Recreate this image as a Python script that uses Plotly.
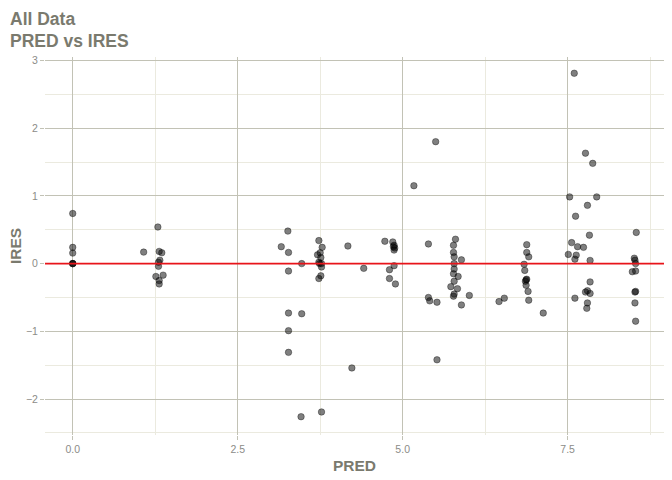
import plotly.graph_objects as go

# PRED / IRES pairs, one pair of lists per column of points
pred_0 = [0.0, 0.0, 0.0, 0.0, 0.0, 0.0]
ires_0 = [0.74, 0.24, 0.155, 0.0, 0.0, 0.0]

pred_1 = [1.29, 1.075, 1.31, 1.35, 1.32, 1.30, 1.30, 1.26, 1.37, 1.31, 1.31]
ires_1 = [0.54, 0.17, 0.18, 0.16, 0.05, 0.02, -0.04, -0.19, -0.17, -0.25, -0.30]

pred_2 = [3.16, 3.27, 3.26, 3.27, 3.47, 3.27, 3.47, 3.27, 3.27, 3.46]
ires_2 = [0.25, 0.165, 0.48, -0.11, 0.0, -0.73, -0.74, -0.99, -1.31, -2.26]

pred_3 = [3.73, 3.78, 3.71, 3.75, 3.76, 3.73, 3.74, 3.77, 3.77, 3.76, 3.73, 3.77]
ires_3 = [0.34, 0.24, 0.13, 0.16, 0.09, 0.02, 0.0, 0.0, -0.05, -0.18, -0.22, -2.19]

pred_4 = [4.17, 4.41, 4.23, 4.73, 4.85, 4.87, 4.86, 4.87, 4.88, 4.87, 4.80, 4.80, 4.89]
ires_4 = [0.26, -0.07, -1.54, 0.33, 0.32, 0.27, 0.25, 0.20, 0.23, -0.03, -0.09, -0.22, -0.30]

pred_5 = [5.17, 5.50, 5.39, 5.39, 5.41, 5.52, 5.52,
          5.80, 5.77, 5.77, 5.78, 5.89, 5.78, 5.78, 5.77, 5.84, 5.78, 5.73,
          5.83, 5.78, 5.77, 6.01, 5.89, 6.46, 6.54]
ires_5 = [1.15, 1.80, 0.29, -0.50, -0.55, -0.57, -1.42,
          0.36, 0.27, 0.165, 0.10, 0.056, 0.0, -0.08, -0.15, -0.19, -0.26, -0.34,
          -0.37, -0.45, -0.48, -0.47, -0.61, -0.56, -0.51]

pred_6 = [6.88, 6.88, 6.91, 6.84, 6.85, 6.87, 6.88, 6.86, 6.87, 6.90, 6.91, 7.13]
ires_6 = [0.28, 0.165, 0.10, -0.01, -0.10, -0.24, -0.23, -0.26, -0.32, -0.41, -0.54, -0.73]

pred_7 = [7.60, 7.77, 7.88, 7.53, 7.94, 7.80, 7.62, 7.83, 7.56, 7.65, 7.74,
          7.51, 7.63, 7.61, 7.84, 7.84, 7.77, 7.80, 7.84, 7.61, 7.80, 7.79]
ires_7 = [2.81, 1.63, 1.48, 0.985, 0.985, 0.86, 0.70, 0.42, 0.31, 0.25, 0.24,
          0.136, 0.125, 0.066, 0.047, -0.27, -0.42, -0.40, -0.44, -0.51, -0.58, -0.66]

pred_8 = [8.54, 8.51, 8.52, 8.53, 8.48, 8.53, 8.52, 8.53, 8.52, 8.53]
ires_8 = [0.46, 0.08, 0.05, 0.0, -0.12, -0.11, -0.42, -0.41, -0.58, -0.85]

pred = pred_0 + pred_1 + pred_2 + pred_3 + pred_4 + pred_5 + pred_6 + pred_7 + pred_8
ires = ires_0 + ires_1 + ires_2 + ires_3 + ires_4 + ires_5 + ires_6 + ires_7 + ires_8

x_ticks = [0, 2.5, 5, 7.5]
x_labels = ["0.0", "2.5", "5.0", "7.5"]
y_ticks = [-2, -1, 0, 1, 2, 3]

x_range = [-0.42, 8.96]
y_range = [-2.53, 3.05]

major = "#c2c2b5"
minor = "#ebeadf"
text_col = "#7a7a6e"
tick_col = "#8c8c88"

fig = go.Figure()
fig.add_trace(go.Scatter(
    x=pred, y=ires, mode="markers",
    marker=dict(size=6.5, color="rgba(0,0,0,0.5)",
                line=dict(color="rgba(0,0,0,0.45)", width=0.8)),
    showlegend=False, hoverinfo="x+y",
))
fig.add_trace(go.Scatter(
    x=x_range, y=[0, 0], mode="lines",
    line=dict(color="#e8141a", width=1.7),
    showlegend=False, hoverinfo="skip",
))

# page body has an 8px margin, so the figure is drawn 8px smaller
fig.update_layout(
    width=664, height=472,
    margin=dict(l=37, r=8, t=49, b=45, autoexpand=False),
    paper_bgcolor="white", plot_bgcolor="white",
    font=dict(family="Liberation Sans, Arial, sans-serif", color=text_col),
)
fig.add_annotation(text="<b>All Data</b>", xref="paper", yref="paper",
                   x=0, y=1, xanchor="left", yanchor="middle",
                   xshift=-36, yshift=38, showarrow=False, borderpad=0,
                   font=dict(size=17.5, color=text_col))
fig.add_annotation(text="<b>PRED vs IRES</b>", xref="paper", yref="paper",
                   x=0, y=1, xanchor="left", yanchor="middle",
                   xshift=-36, yshift=16, showarrow=False, borderpad=0,
                   font=dict(size=17.5, color=text_col))
fig.add_annotation(text="<b>PRED</b>", xref="paper", yref="paper",
                   x=0.5, y=0, xanchor="center", yanchor="middle",
                   yshift=-30, showarrow=False,
                   font=dict(size=15.5, color=text_col))
fig.add_annotation(text="<b>IRES</b>", xref="paper", yref="paper",
                   x=0, y=0.5, xanchor="center", yanchor="middle",
                   xshift=-30, textangle=-90, showarrow=False,
                   font=dict(size=15.5, color=text_col))

fig.update_xaxes(
    range=x_range, tickmode="array", tickvals=x_ticks, ticktext=x_labels,
    showgrid=True, gridcolor=major, gridwidth=1.4, zeroline=False,
    ticks="outside", ticklen=4, tickcolor=major,
    tickfont=dict(size=10.5, color=tick_col),
    minor=dict(tickmode="array", tickvals=[1.25, 3.75, 6.25, 8.75],
               showgrid=True, gridcolor=minor, gridwidth=1.4, ticks=""),
    showline=False, automargin=False,
)
fig.update_yaxes(
    range=y_range, tickmode="array", tickvals=y_ticks,
    showgrid=True, gridcolor=major, gridwidth=1.4, zeroline=False,
    ticks="outside", ticklen=4, tickcolor=major,
    tickfont=dict(size=10.5, color=tick_col),
    minor=dict(tickmode="array", tickvals=[-2.5, -1.5, -0.5, 0.5, 1.5, 2.5],
               showgrid=True, gridcolor=minor, gridwidth=1.4, ticks=""),
    showline=False, automargin=False,
)

fig.write_html("out.html")
